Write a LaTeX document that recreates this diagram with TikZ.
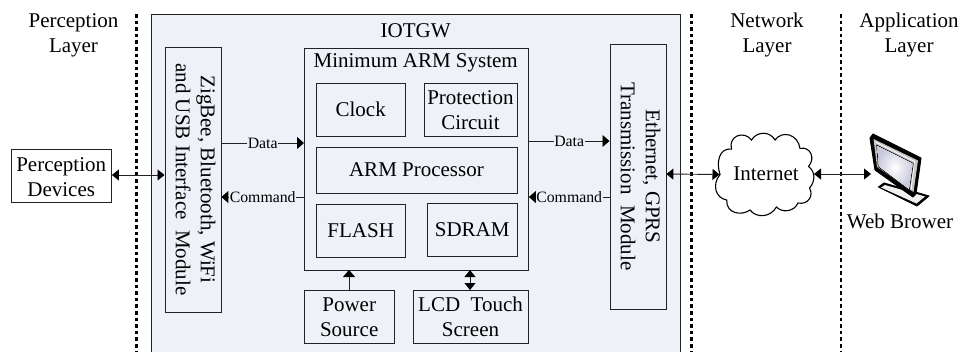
\documentclass[tikz,border=0pt]{standalone}
\usepackage{fontspec}
\setmainfont{Liberation Serif}
\usetikzlibrary{arrows.meta,calc}
\definecolor{panel}{HTML}{EEF1F7}
\definecolor{ink}{HTML}{222222}
\tikzset{
 x=1bp,y=-1bp,
 box/.style={draw=ink,line width=0.9bp,inner sep=0pt,align=center,font=\fontsize{21bp}{25bp}\selectfont,text=black},
 plain/.style={inner sep=0pt,align=center,font=\fontsize{21bp}{25bp}\selectfont},
 small/.style={fill=panel,inner sep=0.5pt,font=\fontsize{15.8bp}{18bp}\selectfont},
 layer/.style={line width=2.4bp,dash pattern=on 3.6bp off 3bp},
 link/.style={line width=0.9bp,draw=ink,{Triangle[length=7bp,width=11bp,black]}-{Triangle[length=7bp,width=11bp,black]}},
 oneway/.style={line width=0.9bp,draw=ink,-{Triangle[length=7bp,width=12bp,black]}},
}
\newcommand{\bx}[6][box]{\node[#1,minimum width=#4bp,minimum height=#5bp,anchor=north west] (#2) at (#3) {#6};}
\begin{document}
\begin{tikzpicture}
\useasboundingbox (0,0) rectangle (963,352);
\path[fill=panel] (151.5,14) rectangle (680.5,352);
\draw[ink,line width=0.9bp] (151.5,352) -- (151.5,14) -- (680.5,14) -- (680.5,352);
\coordinate (l1a) at (136.5,14); \coordinate (l1b) at (136.5,352);
\coordinate (l2a) at (691.5,14); \coordinate (l2b) at (691.5,352);
\coordinate (l3a) at (841,14); \coordinate (l3b) at (841,352);
\draw[layer] (l1a) -- (l1b); \draw[layer] (l2a) -- (l2b); \draw[layer] (l3a) -- (l3b);
\node[plain] (t1) at (73.5,35) {Perception\\Layer};
\node[plain] (t2) at (767,35) {Network\\Layer};
\node[plain] (t3) at (909,35) {Application\\Layer};
\node[plain] (t4) at (415.7,31) {IOTGW};
\bx[box,fill=white]{pd}{10.5,148.5}{100.5}{53.5}{}
\node[plain] at ($(pd.center)+(0,1)$) {Perception\\Devices};
\bx{lm}{164.5,46.5}{56}{265}{}
\node[plain,rotate=-90] at ($(lm.center)+(2.5,0)$) {ZigBee, Bluetooth, WiFi\\and USB Interface\ \ Module};
\bx{rm}{609.5,43.5}{56}{265}{}
\node[plain,rotate=-90] at ($(rm.center)+(2.5,0)$) {Ethernet, GPRS\\Transmission\ \ Module};
\bx{arm}{304,47.5}{224}{222.5}{}
\node[plain] (t5) at (415.7,63) {Minimum ARM System};
\bx{clk}{315.5,82.5}{89.5}{53.5}{Clock}
\bx{prot}{423.5,82.5}{93}{53.5}{Protection\\Circuit}
\bx{proc}{315.5,146.5}{201}{46}{ARM Processor}
\bx{fl}{315.5,203.5}{89.5}{53.5}{FLASH}
\bx{sd}{427,202.5}{89.5}{53.5}{SDRAM}
\bx{pw}{304,290}{89.5}{53}{Power\\Source}
\bx{lcd}{412.5,290}{115.2}{53}{LCD\ \ Touch\\Screen}
% connectors
\draw[link] (pd.east |- 0,175) -- (lm.west |- 0,175);
\draw[oneway] (lm.east |- 0,143) -- node[small,pos=0.5]{Data} (arm.west |- 0,143);
\draw[oneway] (arm.west |- 0,197) -- node[small,pos=0.5]{Command} (lm.east |- 0,197);
\draw[oneway] (arm.east |- 0,141) -- node[small,pos=0.5]{Data} (rm.west |- 0,141);
\draw[oneway] (rm.west |- 0,197) -- node[small,pos=0.5]{Command} (arm.east |- 0,197);
\coordinate (pwt) at (349,270);
\coordinate (lcdt) at (470,270);
\draw[oneway] (pw.north -| pwt) -- (pwt);
\draw[link] (lcd.north -| lcdt) -- (lcdt);
% cloud
\coordinate (cw) at (719.5,174.5); \coordinate (ce) at (814,174);
\draw[black,fill=white,line width=1.1bp] (720,174.5)
 .. controls (716,162) and (719,148) .. (731.5,149)
 .. controls (728,136) and (744,130) .. (751.5,140)
 .. controls (757,131) and (770,131) .. (775,140)
 .. controls (782,130) and (798,134) .. (800,148.5)
 .. controls (810,146) and (816,158) .. (808.5,166.5)
 .. controls (816,172) and (815,182) .. (809.5,188)
 .. controls (814,196) and (808,205) .. (798,203)
 .. controls (794,212) and (782,213) .. (776.5,207)
 .. controls (770,218) and (756,218) .. (750,210)
 .. controls (742,216) and (726,214) .. (726.7,200)
 .. controls (715,198) and (712,184) .. (720,174.5) -- cycle;
\node[plain] (inet) at (766,174) {Internet};
% monitor
\fill[black,draw=black,line width=1bp,line join=round] (878.5,187) -- (884,183) -- (929,196) -- (917,206) -- cycle;
\fill[gray!12] (881,187.5) -- (885,185) -- (925,196.5) -- (916.5,203.5) -- cycle;
\fill[black,line join=round,draw=black,line width=1bp] (870,138) -- (873,134) -- (921,158) -- (916,194) -- (913,197) -- (875,170) -- cycle;
\fill[gray!45] (873.5,139) -- (918,160.5) -- (913.5,192) -- (877,167) -- cycle;
\draw[white,line width=0.7bp] (875.5,142) -- (914.5,161.5) -- (911,190);
\draw[black,line width=0.7bp,fill=white] (876.7,145) -- (913.3,163.3) -- (909.3,190) -- (878.3,166.7) -- cycle;
\shade[inner color=white,outer color=blue!22!gray!35] (877.2,145.8) -- (912.8,163.6) -- (909,189.2) -- (878.8,166.5) -- cycle;
\coordinate (mon) at (871,174);
\node[plain] (web) at (900,221) {Web Brower};
\draw[link] (rm.east |- 0,174) -- (cw);
\draw[link] (ce) -- (mon);
\end{tikzpicture}
\end{document}
